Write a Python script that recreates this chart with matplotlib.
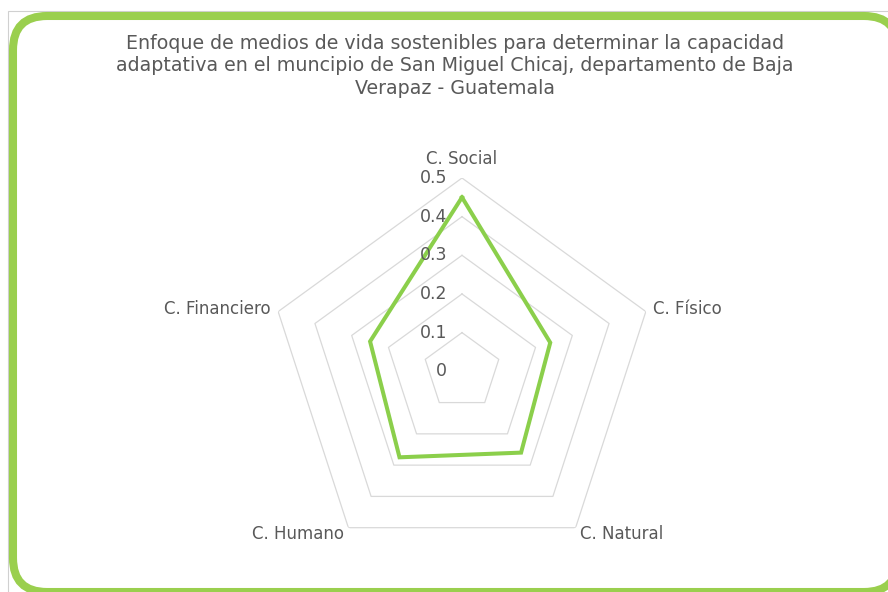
import numpy as np
import matplotlib
matplotlib.use("Agg")
import matplotlib.pyplot as plt
from matplotlib.patches import FancyBboxPatch, Rectangle
from matplotlib.transforms import ScaledTranslation

categories = ["C. Social", "C. Físico", "C. Natural", "C. Humano", "C. Financiero"]
values = [0.45, 0.24, 0.26, 0.275, 0.25]
ring_levels = [0.1, 0.2, 0.3, 0.4, 0.5]
tick_labels = ["0", "0.1", "0.2", "0.3", "0.4", "0.5"]
tick_values = [0.0, 0.1, 0.2, 0.3, 0.4, 0.5]
title = ("Enfoque de medios de vida sostenibles para determinar la capacidad\n"
         "adaptativa en el muncipio de San Miguel Chicaj, departamento de Baja\n"
         "Verapaz - Guatemala")

text_grey = "#595959"
grid_grey = "#d9d9d9"
line_green = "#8bcf4b"
frame_green = "#9acf4e"

plt.rcParams["font.family"] = ["DejaVu Sans"]

W, H, DPI = 888, 592, 100
fig = plt.figure(figsize=(W / DPI, H / DPI), dpi=DPI)
fig.patch.set_facecolor("white")


def px(v):
    return v / DPI


# frame: thin grey chart border and rounded green outline, in pixels.
# white face keeps Agg from clipping the curved stroke at the canvas edge
fig.add_artist(Rectangle((px(8), px(-20)), px(900), px(H - 11 + 20),
                         transform=fig.dpi_scale_trans, facecolor="white",
                         edgecolor="#d0d0d0", linewidth=0.8, zorder=-2))
fig.add_artist(FancyBboxPatch((px(13), px(H - 592)), px(885), px(576),
                              boxstyle="round,pad=0,rounding_size=0.34",
                              transform=fig.dpi_scale_trans, facecolor="white",
                              edgecolor=frame_green, linewidth=5.8, zorder=-1))

fig.text(455 / W, 1 - 34 / H, title, ha="center", va="top", fontsize=13.7,
         color=text_grey, linespacing=1.22)

# radar axes centred on (462, 371) px, outer radius 193 px
cx, cy, R = 462, 371.3, 193.3
ax = fig.add_axes([(cx - R) / W, (H - cy - R) / H, 2 * R / W, 2 * R / H],
                  projection="polar")
ax.set_theta_offset(np.pi / 2)
ax.set_theta_direction(-1)
ax.set_ylim(0, 0.5)
ax.grid(False)
ax.spines["polar"].set_visible(False)
ax.set_xticks([])
ax.set_yticks([])
ax.patch.set_alpha(0)

angles = np.linspace(0, 2 * np.pi, len(categories), endpoint=False)
closed = np.append(angles, angles[0])

for r in ring_levels:
    ax.plot(closed, [r] * len(closed), color=grid_grey, linewidth=0.9, zorder=1)

ax.plot(closed, values + values[:1], color=line_green, linewidth=2.9,
        solid_joinstyle="miter", zorder=3)

# value labels beside the top spoke
shift = ScaledTranslation(-px(15), 0, fig.dpi_scale_trans)
for v, lab in zip(tick_values, tick_labels):
    ax.text(0, v, lab, transform=ax.transData + shift, ha="right",
            va="center", fontsize=12.5, color=text_grey)

aligns = [("center", "bottom"), ("left", "center"), ("left", "center"),
          ("right", "center"), ("right", "center")]
for ang, cat, (ha, va) in zip(angles, categories, aligns):
    r = 0.52 if va == "center" else 0.525
    ax.text(ang, r, cat, ha=ha, va=va, fontsize=12, color=text_grey)

fig.savefig("out.png", dpi=DPI)
